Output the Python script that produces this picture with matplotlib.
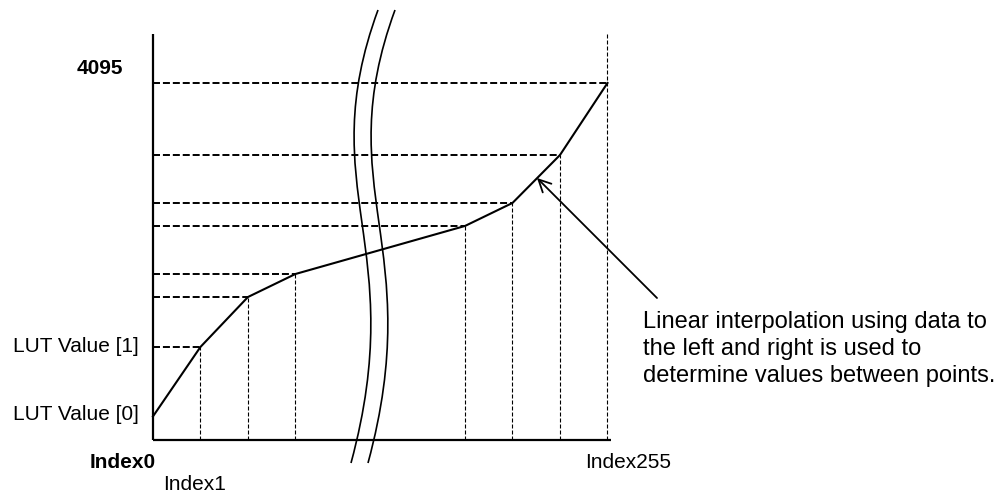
import matplotlib.pyplot as plt
from matplotlib.path import Path
from matplotlib.patches import PathPatch
from matplotlib.transforms import Affine2D

plt.rcParams['font.family'] = ['Liberation Sans', 'DejaVu Sans']

# table points: slot position on the (broken) x axis and the LUT value
slots = [0, 1, 2, 3, 6.57, 7.57, 8.57, 9.57]
lut_values = [270, 1067, 1640, 1904, 2455, 2719, 3269, 4095]
max_value = 4095

W, H = 1006, 497
fig = plt.figure(figsize=(W / 100, H / 100), dpi=100)
ax = fig.add_axes([0, 0, 1, 1])
ax.set_xlim(-3.22, 17.96)
ax.set_ylim(-654, 5047)
ax.axis('off')

# image-pixel transform (origin top-left) for labels and decorations
px = Affine2D().scale(1, -1).translate(0, H)

# axes
ax.plot([0, 0], [0, 4660], color='black', lw=1.6, solid_capstyle='butt')
ax.plot([0, 9.65], [0, 0], color='black', lw=1.6, solid_capstyle='butt')

# dashed guides from each point back to the axes
for i in range(1, len(slots)):
    ax.plot([0, slots[i]], [lut_values[i], lut_values[i]], color='black',
            lw=1.4, ls=(0, (3.6, 1.5)))
    top = lut_values[i] if i < len(slots) - 1 else 4669
    ax.plot([slots[i], slots[i]], [0, top], color='black',
            lw=0.8, ls=(0, (3.6, 1.8)))

# interpolated curve
ax.plot(slots, lut_values, color='black', lw=1.5)

# axis break marks
for dx in (0, 17):
    verts = [(378 + dx, 10), (312 + dx, 190), (410 + dx, 245), (351 + dx, 463)]
    path = Path(verts, [Path.MOVETO, Path.CURVE4, Path.CURVE4, Path.CURVE4])
    ax.add_patch(PathPatch(path, fill=False, lw=1.2, color='black',
                           transform=px))

# labels
ax.text(123, 69, str(max_value), transform=px, ha='right', va='center',
        fontsize=15, fontweight='bold')
ax.text(13, 347, 'LUT Value [1]', transform=px, ha='left', va='center',
        fontsize=15)
ax.text(13, 415, 'LUT Value [0]', transform=px, ha='left', va='center',
        fontsize=15)
ax.text(90, 462, 'Index0', transform=px, ha='left', va='center',
        fontsize=15, fontweight='bold')
ax.text(163, 485, 'Index1', transform=px, ha='left', va='center',
        fontsize=15)
ax.text(585, 463, 'Index255', transform=px, ha='left', va='center',
        fontsize=15)

ax.annotate('', xy=(537, 178), xytext=(657, 298), xycoords=px,
            textcoords=px,
            arrowprops=dict(arrowstyle='->', lw=1.3, color='black',
                            mutation_scale=22, shrinkA=0, shrinkB=0))
ax.text(643, 349, 'Linear interpolation using data to\n'
        'the left and right is used to\n'
        'determine values between points.',
        transform=px, ha='left', va='center', fontsize=17, linespacing=1.32)

fig.savefig('out.png', dpi=100)
